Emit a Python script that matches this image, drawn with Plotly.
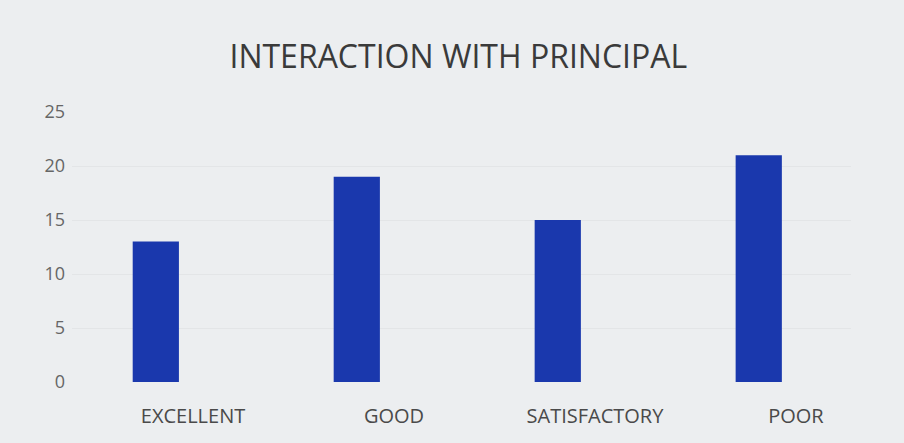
import plotly.graph_objects as go

categories = ["EXCELLENT", "GOOD", "SATISFACTORY", "POOR"]
responses = [13, 19, 15, 21]
y_ticks = [0, 5, 10, 15, 20, 25]

BAR_COLOR = "#1a38ad"
BG = "#eceef0"
FONT = "Open Sans, Lato, sans-serif"

# bars sit left of the category centre (as in the original clustered chart)
fig = go.Figure(go.Bar(
    x=categories, y=responses,
    marker=dict(color=BAR_COLOR, line=dict(width=0)),
    width=0.23, offset=-0.3
))

fig.update_layout(
    width=904, height=443,
    title=dict(text="INTERACTION WITH PRINCIPAL", x=0.507, xanchor="center",
               y=0.871, yanchor="middle",
               font=dict(family=FONT, size=32, color="#3a3a3a")),
    plot_bgcolor=BG,
    paper_bgcolor=BG,
    font=dict(family=FONT, size=14, color="#555555"),
    showlegend=False,
    margin=dict(l=72, r=53, t=112, b=61)
)
fig.update_xaxes(range=[-0.602, 3.274], showgrid=False, showline=False, ticks="",
                 ticklabelstandoff=20, tickfont=dict(size=20, color="#4a4a4a"))
fig.update_yaxes(range=[0, 25], tickvals=y_ticks, showgrid=True, gridcolor="#e3e5e7",
                 zeroline=False, showline=False, ticks="", ticklabelstandoff=6,
                 tickfont=dict(size=18, color="#666666"))

fig.write_html("out.html", config={"displayModeBar": False},
               post_script="document.body.style.margin='0';")
